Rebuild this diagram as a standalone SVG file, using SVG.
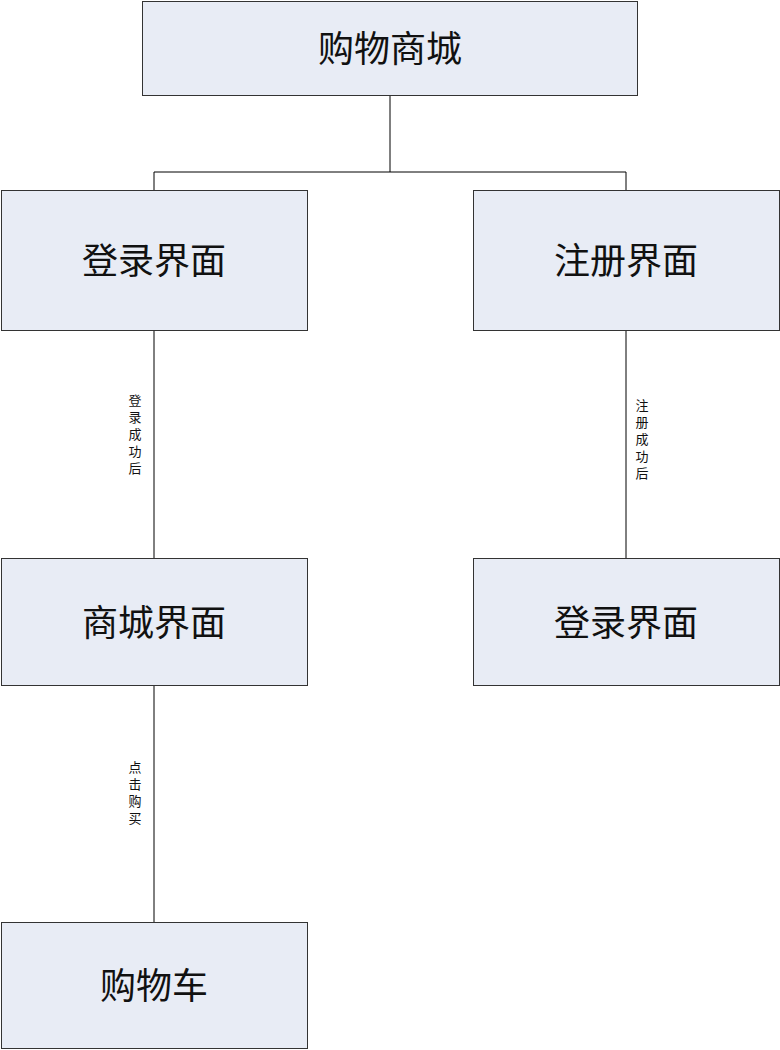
<svg xmlns="http://www.w3.org/2000/svg" width="780" height="1050" viewBox="0 0 780 1050">
<style>
.box{fill:#e8ecf5;stroke:#333;stroke-width:1}
.t{font-family:"Noto Sans CJK SC",sans-serif;font-size:36px;fill:#111;text-anchor:middle;dominant-baseline:central}
.l{font-family:"Noto Sans CJK SC",sans-serif;font-size:13px;fill:#111;text-anchor:middle}
.c{stroke:#000;stroke-width:1;fill:none}
</style>
<rect width="780" height="1050" fill="#fff"/>
<g id="connectors">
<path class="c" d="M390,95V172M154,190V172H626V190"/>
<path class="c" d="M154,330V558"/>
<path class="c" d="M626,330V558"/>
<path class="c" d="M154,685V922"/>
<text class="l" x="135" y="405">登</text><text class="l" x="135" y="422">录</text><text class="l" x="135" y="439">成</text><text class="l" x="135" y="456">功</text><text class="l" x="135" y="473">后</text>
<text class="l" x="642" y="410">注</text><text class="l" x="642" y="427">册</text><text class="l" x="642" y="444">成</text><text class="l" x="642" y="461">功</text><text class="l" x="642" y="478">后</text>
<text class="l" x="135" y="772">点</text><text class="l" x="135" y="789">击</text><text class="l" x="135" y="806">购</text><text class="l" x="135" y="823">买</text>
</g>
<g id="n1"><rect class="box" x="142.5" y="1.5" width="495" height="94"/><text class="t" x="390" y="46">购物商城</text></g>
<g id="n2"><rect class="box" x="1.5" y="190.5" width="306" height="140"/><text class="t" x="154" y="258">登录界面</text></g>
<g id="n3"><rect class="box" x="473.5" y="190.5" width="306" height="140"/><text class="t" x="626" y="258">注册界面</text></g>
<g id="n4"><rect class="box" x="1.5" y="558.5" width="306" height="127"/><text class="t" x="154" y="620">商城界面</text></g>
<g id="n5"><rect class="box" x="473.5" y="558.5" width="306" height="127"/><text class="t" x="626" y="620">登录界面</text></g>
<g id="n6"><rect class="box" x="1.5" y="922.5" width="306" height="126"/><text class="t" x="154" y="983">购物车</text></g>
</svg>
